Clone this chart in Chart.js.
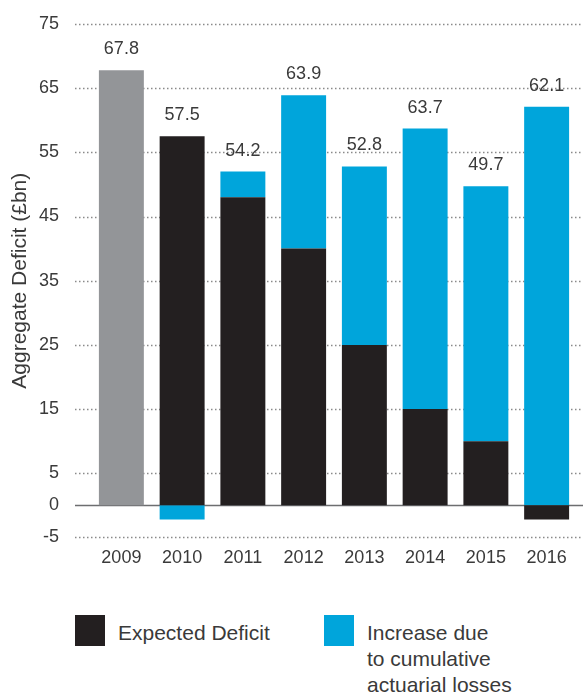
<!DOCTYPE html>
<html>
<head>
<meta charset="utf-8">
<script src="https://cdn.jsdelivr.net/npm/chart.js@4"></script>
<style>
  body { margin: 0; background: #fff; font-family: "Liberation Sans", Arial, sans-serif; }
  #wrap { position: relative; width: 583px; height: 693px; }
  #c { position: absolute; left: 0; top: 0; }
  .sw { position: absolute; width: 30px; height: 31px; top: 615px; }
  .lt { position: absolute; top: 620px; font-size: 21px; line-height: 26px; color: #3a3a3a; }
</style>
</head>
<body>
<div id="wrap">
  <canvas id="c" width="583" height="600"></canvas>
  <div class="sw" style="left:75px;background:#231f20"></div>
  <div class="lt" style="left:118px">Expected Deficit</div>
  <div class="sw" style="left:324px;background:#00a5db"></div>
  <div class="lt" style="left:367px">Increase due<br>to cumulative<br>actuarial losses</div>
</div>
<script>
const years = ["2009", "2010", "2011", "2012", "2013", "2014", "2015", "2016"];
const baseline2009 = [67.8, null, null, null, null, null, null, null];
const expectedDeficit = [null, 57.5, 48, 40, 25, 15, 10, -2.2];
const actuarialIncrease = [null, -2.2, 4, 23.9, 27.8, 43.7, 39.7, 62.1];
const totalLabels = ["67.8", "57.5", "54.2", "63.9", "52.8", "63.7", "49.7", "62.1"];
const yTicks = [75, 65, 55, 45, 35, 25, 15, 5, 0, -5];

const textColor = "#3a3a3a";
const fontFamily = "'Liberation Sans', Arial, sans-serif";

// dotted grid behind bars, solid zero line
const gridPlugin = {
  id: "grid",
  beforeDatasetsDraw(chart) {
    const ctx = chart.ctx;
    const y = chart.scales.y;
    ctx.save();
    yTicks.forEach(v => {
      const py = Math.round(y.getPixelForValue(v)) + 0.5;
      ctx.beginPath();
      if (v === 0) {
        ctx.setLineDash([]);
        ctx.strokeStyle = "#6d6e70";
      } else {
        ctx.setLineDash([1.5, 2.5]);
        ctx.strokeStyle = "#8a8a8a";
      }
      ctx.lineWidth = 1.5;
      ctx.moveTo(75, py);
      ctx.lineTo(chart.width, py);
      ctx.stroke();
    });
    ctx.restore();
  }
};

// value labels above each column
const labelPlugin = {
  id: "totals",
  afterDatasetsDraw(chart) {
    const ctx = chart.ctx;
    ctx.save();
    ctx.font = "18px " + fontFamily;
    ctx.fillStyle = textColor;
    ctx.textAlign = "center";
    ctx.textBaseline = "middle";
    years.forEach((yr, i) => {
      let top = Infinity, x = null;
      chart.data.datasets.forEach((ds, di) => {
        if (ds.data[i] == null) return;
        const el = chart.getDatasetMeta(di).data[i];
        top = Math.min(top, el.y, el.base);
        x = el.x;
      });
      if (x !== null) ctx.fillText(totalLabels[i], x, top - 21);
    });
    ctx.restore();
  }
};

new Chart(document.getElementById("c"), {
  type: "bar",
  data: {
    labels: years,
    datasets: [
      { label: "2009", data: baseline2009, backgroundColor: "#939598" },
      { label: "Expected Deficit", data: expectedDeficit, backgroundColor: "#231f20" },
      { label: "Increase due to cumulative actuarial losses", data: actuarialIncrease, backgroundColor: "#00a5db" }
    ]
  },
  options: {
    responsive: false,
    animation: false,
    categoryPercentage: 1,
    barPercentage: 0.74,
    layout: { padding: { top: 24, right: 6, bottom: 29, left: 0 } },
    plugins: {
      legend: { display: false },
      tooltip: { enabled: false }
    },
    scales: {
      x: {
        stacked: true,
        grid: { display: false },
        border: { display: false },
        ticks: { color: textColor, font: { size: 18, family: fontFamily }, padding: 2 }
      },
      y: {
        stacked: true,
        min: -5,
        max: 75,
        afterBuildTicks(scale) { scale.ticks = yTicks.map(v => ({ value: v })); },
        afterFit(scale) {
          scale.width = 91;
          scale.paddingTop = 0;
          scale.paddingBottom = 0;
        },
        grid: { display: false },
        border: { display: false },
        ticks: { color: textColor, font: { size: 18, family: fontFamily }, padding: 24 },
        title: {
          display: true,
          text: "Aggregate Deficit (£bn)",
          color: textColor,
          font: { size: 21, family: fontFamily },
          padding: { top: 8, bottom: 0 }
        }
      }
    }
  },
  plugins: [gridPlugin, labelPlugin]
});
</script>
</body>
</html>
